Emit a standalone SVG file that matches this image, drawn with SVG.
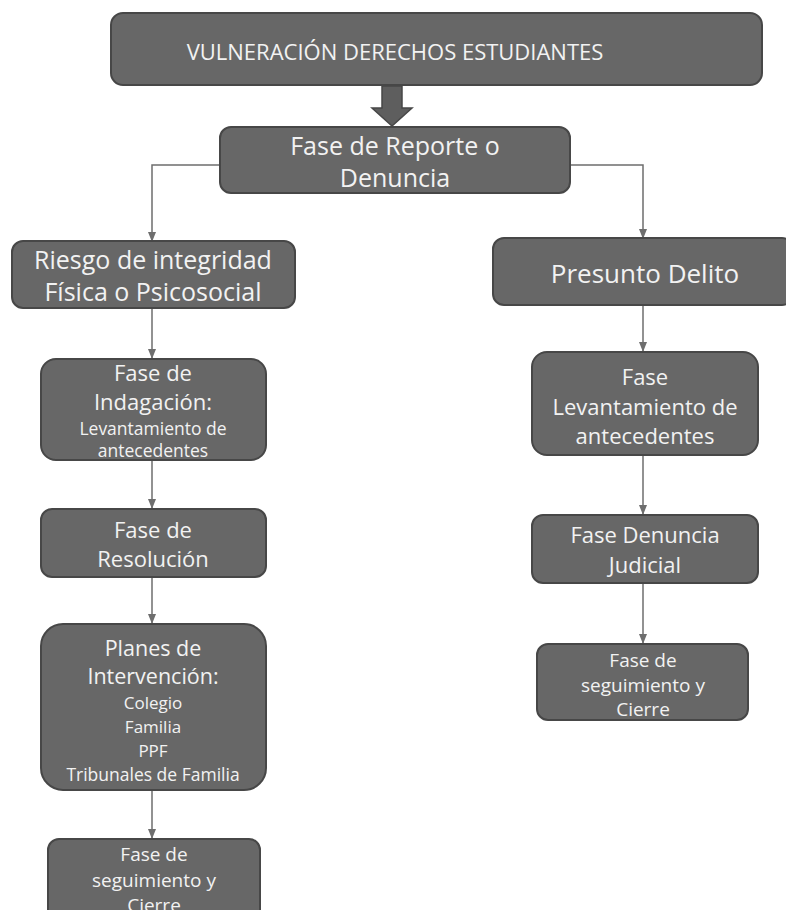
<svg xmlns="http://www.w3.org/2000/svg" width="786" height="910" viewBox="0 0 786 910">
<style>
.box{fill:#676767;stroke:#474747;stroke-width:2}
.t{fill:#f2f2f2;font-family:"Open Sans","Noto Sans",sans-serif;text-anchor:middle}
.c{stroke:#6e6e6e;stroke-width:1.5;fill:none;marker-end:url(#ah)}
</style>
<defs>
<marker id="ah" markerWidth="10" markerHeight="8" refX="9" refY="4" orient="auto" markerUnits="userSpaceOnUse">
<path d="M0,0 L10,4 L0,8 z" fill="#6e6e6e"/>
</marker>
</defs>
<rect width="786" height="910" fill="#ffffff"/>
<g id="connectors">
<path d="M382,86 V108 H372 L392,126 L412,108 H402 V86 Z" fill="#5e5e5e" stroke="#474747" stroke-width="1.5"/>
<path class="c" d="M220,165 H152 V241"/>
<path class="c" d="M570,165 H643 V238"/>
<path class="c" d="M152,309 V358"/>
<path class="c" d="M152,461 V508"/>
<path class="c" d="M152,578 V623"/>
<path class="c" d="M152,791 V838"/>
<path class="c" d="M643,306 V351"/>
<path class="c" d="M643,456 V514"/>
<path class="c" d="M643,584 V643"/>
</g>
<g id="n-vulneracion">
<rect class="box" x="111" y="13" width="651" height="72" rx="12"/>
<text class="t" x="395" y="60" font-size="22">VULNERACIÓN DERECHOS ESTUDIANTES</text>
</g>
<g id="n-reporte">
<rect class="box" x="220" y="127" width="350" height="66" rx="11"/>
<text class="t" x="395" y="155" font-size="25">Fase de Reporte o</text>
<text class="t" x="395" y="187" font-size="25">Denuncia</text>
</g>
<g id="n-riesgo">
<rect class="box" x="12" y="241" width="283" height="67" rx="11"/>
<text class="t" x="153" y="269" font-size="25">Riesgo de integridad</text>
<text class="t" x="153" y="301" font-size="25">Física o Psicosocial</text>
</g>
<g id="n-presunto">
<rect class="box" x="493" y="238" width="300" height="67" rx="11"/>
<text class="t" x="645" y="283" font-size="26">Presunto Delito</text>
</g>
<g id="n-indagacion">
<rect class="box" x="41" y="359" width="225" height="101" rx="15"/>
<text class="t" x="153" y="381" font-size="22">Fase de</text>
<text class="t" x="153" y="410" font-size="22">Indagación:</text>
<text class="t" x="153" y="435" font-size="17.5">Levantamiento de</text>
<text class="t" x="153" y="457" font-size="17.5">antecedentes</text>
</g>
<g id="n-resolucion">
<rect class="box" x="41" y="509" width="225" height="68" rx="11"/>
<text class="t" x="153" y="538" font-size="22">Fase de</text>
<text class="t" x="153" y="567" font-size="22">Resolución</text>
</g>
<g id="n-planes">
<rect class="box" x="41" y="624" width="225" height="166" rx="22"/>
<text class="t" x="153" y="656" font-size="21.5">Planes de</text>
<text class="t" x="153" y="684" font-size="21.5">Intervención:</text>
<text class="t" x="153" y="709" font-size="17">Colegio</text>
<text class="t" x="153" y="733" font-size="17">Familia</text>
<text class="t" x="153" y="757" font-size="17">PPF</text>
<text class="t" x="153" y="781" font-size="17.5">Tribunales de Familia</text>
</g>
<g id="n-seguimiento-izq">
<rect class="box" x="48" y="839" width="212" height="85" rx="11"/>
<text class="t" x="154" y="861" font-size="19">Fase de</text>
<text class="t" x="154" y="887" font-size="19">seguimiento y</text>
<text class="t" x="154" y="912" font-size="19">Cierre</text>
</g>
<g id="n-levantamiento">
<rect class="box" x="532" y="352" width="226" height="103" rx="15"/>
<text class="t" x="645" y="385" font-size="22">Fase</text>
<text class="t" x="645" y="415" font-size="22">Levantamiento de</text>
<text class="t" x="645" y="444" font-size="22">antecedentes</text>
</g>
<g id="n-denuncia">
<rect class="box" x="532" y="515" width="226" height="68" rx="11"/>
<text class="t" x="645" y="543" font-size="22">Fase Denuncia</text>
<text class="t" x="645" y="573" font-size="22">Judicial</text>
</g>
<g id="n-seguimiento-der">
<rect class="box" x="537" y="644" width="211" height="76" rx="11"/>
<text class="t" x="643" y="667" font-size="19">Fase de</text>
<text class="t" x="643" y="692" font-size="19">seguimiento y</text>
<text class="t" x="643" y="716" font-size="19">Cierre</text>
</g>
</svg>
